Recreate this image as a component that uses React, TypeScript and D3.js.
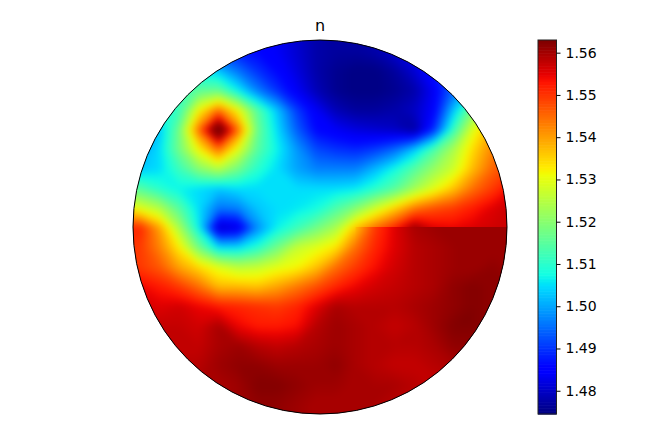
// App.tsx
import React, { useEffect, useRef } from 'react';
import * as d3 from 'd3';

const title = 'n';
const colorDomain = [1.4745, 1.563];
const tickValues = [1.48, 1.49, 1.5, 1.51, 1.52, 1.53, 1.54, 1.55, 1.56];

// n sampled on a regular 21 x 21 grid, rows top to bottom
const gridValues = [
  [1.5, 1.5, 1.5, 1.5, 1.495, 1.49, 1.488, 1.486, 1.484, 1.481, 1.478, 1.477, 1.477, 1.478, 1.481, 1.484, 1.487, 1.49, 1.495, 1.5, 1.5],
  [1.5, 1.5, 1.5, 1.5, 1.495, 1.49, 1.488, 1.486, 1.484, 1.481, 1.478, 1.477, 1.477, 1.478, 1.481, 1.484, 1.487, 1.49, 1.495, 1.5, 1.5],
  [1.51, 1.51, 1.51, 1.51, 1.506, 1.503, 1.496, 1.49, 1.486, 1.482, 1.478, 1.476, 1.475, 1.475, 1.477, 1.481, 1.487, 1.495, 1.5, 1.51, 1.51],
  [1.51, 1.51, 1.51, 1.512, 1.516, 1.517, 1.507, 1.497, 1.49, 1.484, 1.479, 1.476, 1.475, 1.475, 1.476, 1.478, 1.484, 1.495, 1.505, 1.52, 1.52],
  [1.505, 1.505, 1.508, 1.512, 1.532, 1.545, 1.532, 1.515, 1.503, 1.491, 1.484, 1.479, 1.477, 1.477, 1.478, 1.48, 1.485, 1.503, 1.52, 1.53, 1.53],
  [1.5, 1.5, 1.503, 1.518, 1.545, 1.572, 1.545, 1.517, 1.505, 1.494, 1.486, 1.484, 1.482, 1.481, 1.48, 1.477, 1.49, 1.512, 1.53, 1.54, 1.54],
  [1.5, 1.5, 1.505, 1.518, 1.532, 1.545, 1.53, 1.515, 1.507, 1.499, 1.492, 1.49, 1.489, 1.491, 1.495, 1.503, 1.514, 1.524, 1.535, 1.543, 1.548],
  [1.503, 1.503, 1.505, 1.512, 1.52, 1.525, 1.518, 1.51, 1.505, 1.5, 1.497, 1.497, 1.497, 1.502, 1.508, 1.515, 1.522, 1.528, 1.538, 1.546, 1.55],
  [1.515, 1.515, 1.51, 1.507, 1.505, 1.503, 1.505, 1.505, 1.505, 1.505, 1.505, 1.505, 1.506, 1.51, 1.515, 1.523, 1.53, 1.537, 1.545, 1.55, 1.555],
  [1.535, 1.53, 1.525, 1.515, 1.505, 1.496, 1.497, 1.503, 1.505, 1.506, 1.508, 1.514, 1.52, 1.528, 1.536, 1.544, 1.548, 1.55, 1.553, 1.556, 1.558],
  [1.552, 1.552, 1.54, 1.524, 1.507, 1.48, 1.482, 1.498, 1.507, 1.512, 1.518, 1.524, 1.537, 1.545, 1.552, 1.562, 1.556, 1.555, 1.556, 1.557, 1.557],
  [1.55, 1.55, 1.543, 1.533, 1.518, 1.505, 1.505, 1.51, 1.518, 1.527, 1.53, 1.534, 1.545, 1.552, 1.556, 1.559, 1.56, 1.561, 1.561, 1.561, 1.561],
  [1.552, 1.55, 1.547, 1.54, 1.535, 1.53, 1.526, 1.527, 1.53, 1.532, 1.537, 1.545, 1.55, 1.554, 1.557, 1.559, 1.56, 1.561, 1.561, 1.562, 1.561],
  [1.555, 1.555, 1.553, 1.55, 1.545, 1.538, 1.538, 1.537, 1.54, 1.544, 1.548, 1.552, 1.555, 1.557, 1.558, 1.559, 1.56, 1.562, 1.563, 1.562, 1.562],
  [1.557, 1.557, 1.556, 1.557, 1.555, 1.553, 1.552, 1.551, 1.55, 1.552, 1.556, 1.56, 1.559, 1.559, 1.559, 1.56, 1.561, 1.562, 1.563, 1.562, 1.562],
  [1.558, 1.558, 1.558, 1.558, 1.557, 1.56, 1.555, 1.553, 1.553, 1.554, 1.559, 1.561, 1.56, 1.559, 1.558, 1.559, 1.561, 1.563, 1.563, 1.562, 1.562],
  [1.558, 1.558, 1.558, 1.558, 1.558, 1.56, 1.561, 1.559, 1.558, 1.559, 1.56, 1.561, 1.56, 1.559, 1.559, 1.559, 1.56, 1.562, 1.562, 1.562, 1.562],
  [1.559, 1.559, 1.559, 1.559, 1.559, 1.561, 1.562, 1.562, 1.561, 1.561, 1.561, 1.562, 1.56, 1.559, 1.558, 1.558, 1.559, 1.56, 1.56, 1.56, 1.56],
  [1.56, 1.56, 1.56, 1.56, 1.56, 1.56, 1.561, 1.563, 1.563, 1.562, 1.561, 1.561, 1.56, 1.56, 1.56, 1.559, 1.558, 1.558, 1.558, 1.558, 1.558],
  [1.56, 1.56, 1.56, 1.56, 1.56, 1.56, 1.561, 1.562, 1.562, 1.561, 1.56, 1.56, 1.56, 1.56, 1.559, 1.558, 1.558, 1.558, 1.558, 1.558, 1.558],
  [1.56, 1.56, 1.56, 1.56, 1.56, 1.56, 1.561, 1.562, 1.562, 1.561, 1.56, 1.56, 1.56, 1.56, 1.559, 1.558, 1.558, 1.558, 1.558, 1.558, 1.558],
];

// the mesh has a seam along y = 0 on the right: values just below it, from column 12 on
const seamRow = 10;
const seamFirstColumn = 12;
const seamValues = [1.537, 1.55, 1.556, 1.56, 1.561, 1.561, 1.561, 1.561, 1.561];

// matplotlib jet
const red = d3.scaleLinear<number>().domain([0, 0.35, 0.66, 0.89, 1]).range([0, 0, 1, 1, 0.5]);
const green = d3.scaleLinear<number>().domain([0, 0.125, 0.375, 0.64, 0.91, 1]).range([0, 0, 1, 1, 0, 0]);
const blue = d3.scaleLinear<number>().domain([0, 0.11, 0.34, 0.65, 1]).range([0.5, 1, 1, 0, 0]);
const jet = (t: number) => d3.rgb(red(t) * 255, green(t) * 255, blue(t) * 255).formatRgb();

const App: React.FC = () => {
  const chartRef = useRef<SVGSVGElement | null>(null);

  useEffect(() => {
    const svg = d3.select(chartRef.current);
    svg.selectAll('*').remove();

    const cx = 320;
    const cy = 227;
    const radius = 187;
    const barLeft = 538;
    const barWidth = 18.5;
    const top = cy - radius;
    const bottom = cy + radius;

    const color = d3.scaleSequential(jet).domain(colorDomain as [number, number]);

    // grid index -> pixel
    const x = d3.scaleLinear().domain([0, 20]).range([120.4, 512.4]);
    const y = d3.scaleLinear().domain([0, 20]).range([32, 424]);

    const defs = svg.append('defs');
    defs.append('clipPath').attr('id', 'disc')
      .append('circle').attr('cx', cx).attr('cy', cy).attr('r', radius);
    defs.append('clipPath').attr('id', 'seam')
      .append('rect')
      .attr('x', x(seamFirstColumn))
      .attr('y', y(seamRow) - 1)
      .attr('width', x(20) - x(seamFirstColumn))
      .attr('height', y(seamRow + 3) - y(seamRow) + 1);
    defs.append('filter')
      .attr('id', 'soften')
      .attr('filterUnits', 'userSpaceOnUse')
      .attr('x', 100).attr('y', 10).attr('width', 440).attr('height', 430)
      .attr('color-interpolation-filters', 'sRGB')
      .append('feGaussianBlur')
      .attr('stdDeviation', 3.5);

    const path = d3.geoPath(d3.geoTransform({
      point(px, py) {
        // contour coordinates put grid node i at i + 0.5
        this.stream.point(x(px - 0.5), y(py - 0.5));
      },
    }));
    const thresholds = d3.range(colorDomain[0], colorDomain[1] + 0.0005, 0.0005);
    const contours = d3.contours().size([21, 21]).thresholds(thresholds);

    const drawField = (parent: any, values: number[]) => {
      const g = parent.append('g').attr('filter', 'url(#soften)');
      g.selectAll('path')
        .data(contours(values))
        .join('path')
        .attr('d', path as any)
        .attr('fill', (d: any) => color(d.value));
    };

    const field = svg.append('g').attr('clip-path', 'url(#disc)');
    field.append('circle')
      .attr('cx', cx).attr('cy', cy).attr('r', radius)
      .attr('fill', color(colorDomain[0]));
    drawField(field, gridValues.flat());

    // same field with the lower side of the seam, only shown below it
    const seamGrid = gridValues.map((row, j) =>
      row.map((v, i) => (j <= seamRow && i >= seamFirstColumn ? seamValues[i - seamFirstColumn] : v)));
    drawField(field.append('g').attr('clip-path', 'url(#seam)'), seamGrid.flat());

    svg.append('circle')
      .attr('cx', cx).attr('cy', cy).attr('r', radius)
      .attr('fill', 'none')
      .attr('stroke', 'black')
      .attr('stroke-width', 1);

    svg.append('text')
      .attr('x', cx)
      .attr('y', 30.5)
      .attr('text-anchor', 'middle')
      .attr('font-family', '"DejaVu Sans"')
      .attr('font-size', 16)
      .attr('fill', 'black')
      .text(title);

    // Colorbar
    const barY = d3.scaleLinear().domain(colorDomain).range([bottom, top]);
    const levels = d3.range(256).map((i) => colorDomain[0] + (i / 255) * (colorDomain[1] - colorDomain[0]));
    const levelStep = (colorDomain[1] - colorDomain[0]) / 256;
    svg.append('g')
      .selectAll('rect')
      .data(levels)
      .join('rect')
      .attr('x', barLeft)
      .attr('width', barWidth)
      .attr('y', (_, i) => barY(colorDomain[0] + (i + 1) * levelStep))
      .attr('height', (bottom - top) / 256 + 0.6)
      .attr('fill', (d) => color(d));

    svg.append('rect')
      .attr('x', barLeft)
      .attr('y', top)
      .attr('width', barWidth)
      .attr('height', bottom - top)
      .attr('fill', 'none')
      .attr('stroke', '#222')
      .attr('stroke-width', 1);

    const axis = svg.append('g')
      .attr('transform', `translate(${barLeft + barWidth},0)`)
      .call(d3.axisRight(barY).tickValues(tickValues).tickFormat(d3.format('.2f') as any).tickSize(4).tickPadding(5));
    axis.select('.domain').remove();
    axis.selectAll('text')
      .attr('font-family', '"DejaVu Sans"')
      .attr('font-size', 14)
      .attr('fill', 'black');
  }, []);

  return (
    <svg
      ref={chartRef}
      width={646}
      height={431}
      style={{ position: 'absolute', left: 0, top: 0, background: 'white' }}
    />
  );
};

export default App;
